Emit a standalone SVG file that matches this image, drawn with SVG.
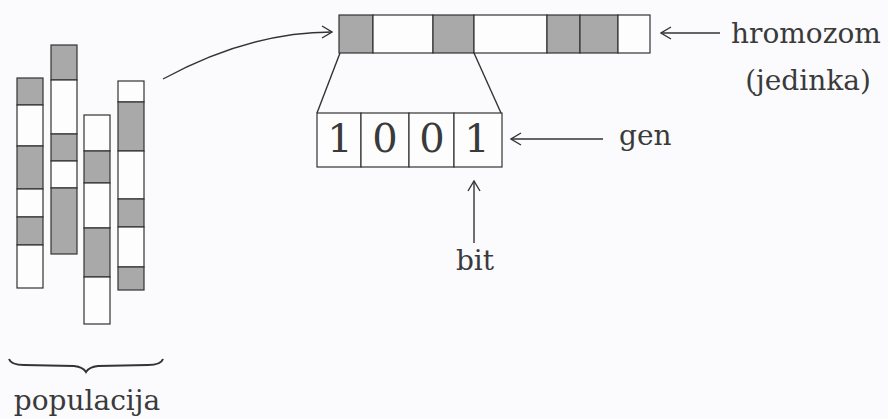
<svg xmlns="http://www.w3.org/2000/svg" width="888" height="419" viewBox="0 0 888 419">
<defs>
<style>
.bg{fill:#fbfbfd}
.g{fill:#a9a9a9;stroke:#333;stroke-width:1.2}
.w{fill:#fdfdfd;stroke:#333;stroke-width:1.2}
.ln{fill:none;stroke:#333;stroke-width:1.4}
.br{fill:none;stroke:#333;stroke-width:2}
.t{font-family:"DejaVu Serif","Liberation Serif",serif;fill:#3a3a3a;font-size:28px}
.d{font-family:"DejaVu Serif","Liberation Serif",serif;fill:#3a3a3a;font-size:40px;text-anchor:middle}
</style>
<marker id="ah" viewBox="0 0 12 14" refX="11" refY="7" markerWidth="12" markerHeight="14" markerUnits="userSpaceOnUse" orient="auto">
<path d="M1,1 L11,7 L1,13" fill="none" stroke="#333" stroke-width="1.4"/>
</marker>
</defs>
<rect class="bg" x="0" y="0" width="888" height="419"/>
<g id="populacija">
<g id="col1">
<rect class="g" x="17" y="78" width="26" height="27"/>
<rect class="w" x="17" y="105" width="26" height="41"/>
<rect class="g" x="17" y="146" width="26" height="43"/>
<rect class="w" x="17" y="189" width="26" height="28"/>
<rect class="g" x="17" y="217" width="26" height="28"/>
<rect class="w" x="17" y="245" width="26" height="43"/>
</g>
<g id="col2">
<rect class="g" x="51" y="45" width="26" height="35"/>
<rect class="w" x="51" y="80" width="26" height="54"/>
<rect class="g" x="51" y="134" width="26" height="27"/>
<rect class="w" x="51" y="161" width="26" height="27"/>
<rect class="g" x="51" y="188" width="26" height="66"/>
</g>
<g id="col3">
<rect class="w" x="84" y="115" width="26" height="36"/>
<rect class="g" x="84" y="151" width="26" height="32"/>
<rect class="w" x="84" y="183" width="26" height="45"/>
<rect class="g" x="84" y="228" width="26" height="49"/>
<rect class="w" x="84" y="277" width="26" height="47"/>
</g>
<g id="col4">
<rect class="w" x="118" y="81" width="26" height="21"/>
<rect class="g" x="118" y="102" width="26" height="49"/>
<rect class="w" x="118" y="151" width="26" height="48"/>
<rect class="g" x="118" y="199" width="26" height="28"/>
<rect class="w" x="118" y="227" width="26" height="40"/>
<rect class="g" x="118" y="267" width="26" height="23"/>
</g>
<path class="br" d="M9,359 Q11,365 24,365 L74,366 Q83,367 86,372 Q89,367 98,366 L148,365 Q161,365 163,359"/>
<text class="t" x="87" y="410" text-anchor="middle">populacija</text>
</g>
<g id="hromozom">
<rect class="g" x="339" y="15" width="34" height="38"/>
<rect class="w" x="373" y="15" width="60" height="38"/>
<rect class="g" x="433" y="15" width="41" height="38"/>
<rect class="w" x="474" y="15" width="73" height="38"/>
<rect class="g" x="547" y="15" width="33" height="38"/>
<rect class="g" x="580" y="15" width="38" height="38"/>
<rect class="w" x="618" y="15" width="32" height="38"/>
<text class="t" x="731" y="43">hromozom</text>
<text class="t" x="808" y="90" text-anchor="middle">(jedinka)</text>
</g>
<g id="gen">
<rect class="w" x="317" y="113" width="44" height="54"/>
<rect class="w" x="361" y="113" width="48" height="54"/>
<rect class="w" x="409" y="113" width="45" height="54"/>
<rect class="w" x="454" y="113" width="48" height="54"/>
<text class="d" x="340" y="152">1</text>
<text class="d" x="385" y="152">0</text>
<text class="d" x="432" y="152">0</text>
<text class="d" x="477" y="152">1</text>
<text class="t" x="619" y="145">gen</text>
</g>
<g id="bit">
<text class="t" x="475" y="270" text-anchor="middle">bit</text>
</g>
<g id="connectors">
<path class="ln" d="M163,79 Q250,32 332,32" marker-end="url(#ah)"/>
<path class="ln" d="M340,53 L317,113"/>
<path class="ln" d="M474,53 L501,113"/>
<path class="ln" d="M720,33 L661,33" marker-end="url(#ah)"/>
<path class="ln" d="M603,139 L511,139" marker-end="url(#ah)"/>
<path class="ln" d="M474,243 L474,181" marker-end="url(#ah)"/>
</g>
</svg>
